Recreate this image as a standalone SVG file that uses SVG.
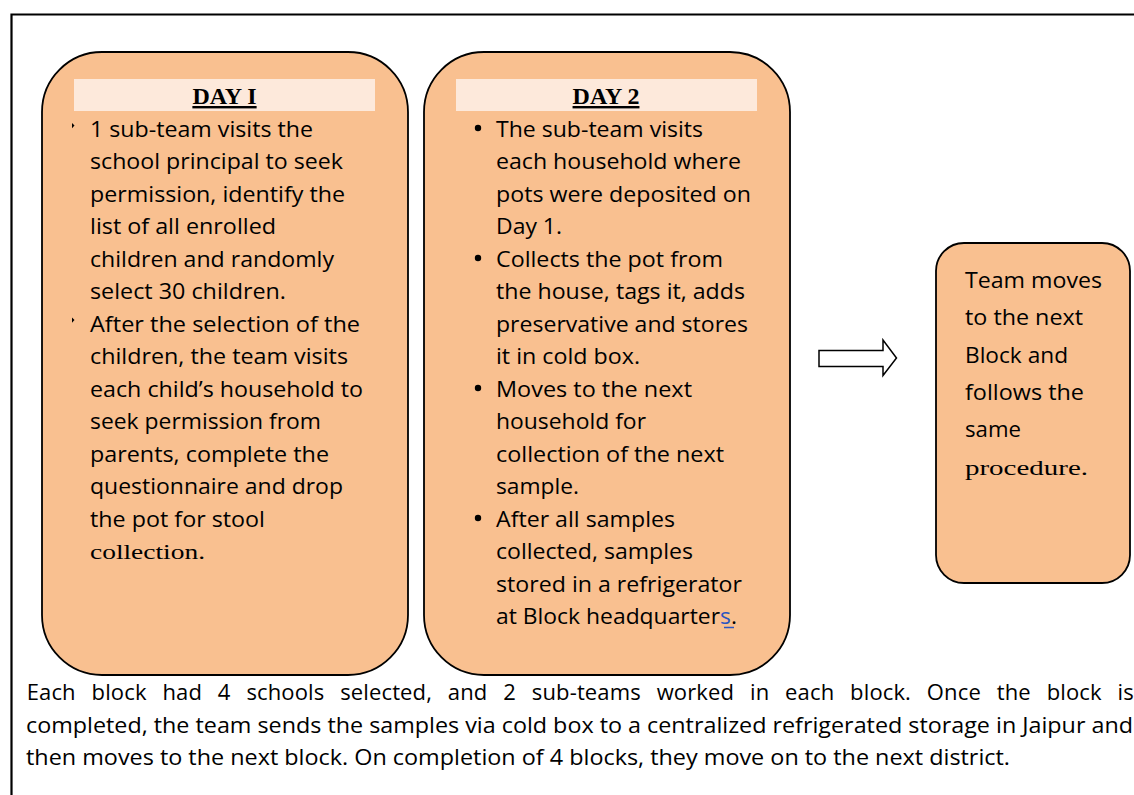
<svg xmlns="http://www.w3.org/2000/svg" width="1134" height="795" viewBox="0 0 1134 795">
<style>
.box{fill:#F9C090;stroke:#000;stroke-width:1.8}
.band{fill:#FDE9DB}
.hd{font-family:"Liberation Serif",serif;font-weight:bold;font-size:24px;fill:#000;text-anchor:middle;text-decoration:underline}
.t{font-family:"Open Sans","Liberation Sans",sans-serif;font-size:21px;fill:#000}
.p{font-family:"Open Sans","Liberation Sans",sans-serif;font-size:22px;fill:#000}
.s{font-family:"Liberation Serif",serif;font-size:22px;fill:#000}
</style>
<rect width="1134" height="795" fill="#fff"/>
<path d="M11.5 795 V14.5 H1134" fill="none" stroke="#000" stroke-width="2.2"/>

<g id="day1">
<rect class="box" x="42" y="52" width="366" height="623" rx="60" ry="60"/>
<rect class="band" x="74" y="79" width="301" height="32"/>
<text class="hd" x="224.5" y="104">DAY I</text>
<polygon points="72,123 74.5,125.5 72,128.3" fill="#000"/>
<polygon points="72,317.5 74.5,320 72,322.8" fill="#000"/>
<g class="t">
<text x="90" y="136.5" textLength="223" lengthAdjust="spacingAndGlyphs">1 sub-team visits the</text>
<text x="90" y="169" textLength="253" lengthAdjust="spacingAndGlyphs">school principal to seek</text>
<text x="90" y="201.5" textLength="255" lengthAdjust="spacingAndGlyphs">permission, identify the</text>
<text x="90" y="234" textLength="186" lengthAdjust="spacingAndGlyphs">list of all enrolled</text>
<text x="90" y="266.5" textLength="244" lengthAdjust="spacingAndGlyphs">children and randomly</text>
<text x="90" y="299" textLength="196" lengthAdjust="spacingAndGlyphs">select 30 children.</text>
<text x="90" y="331.5" textLength="270" lengthAdjust="spacingAndGlyphs">After the selection of the</text>
<text x="90" y="364" textLength="258" lengthAdjust="spacingAndGlyphs">children, the team visits</text>
<text x="90" y="396.5" textLength="273" lengthAdjust="spacingAndGlyphs">each child’s household to</text>
<text x="90" y="429" textLength="231" lengthAdjust="spacingAndGlyphs">seek permission from</text>
<text x="90" y="461.5" textLength="239" lengthAdjust="spacingAndGlyphs">parents, complete the</text>
<text x="90" y="494" textLength="253" lengthAdjust="spacingAndGlyphs">questionnaire and drop</text>
<text x="90" y="526.5" textLength="175" lengthAdjust="spacingAndGlyphs">the pot for stool</text>
</g>
<text class="s" x="90" y="559" textLength="115" lengthAdjust="spacingAndGlyphs">collection.</text>
</g>

<g id="day2">
<rect class="box" x="424" y="52" width="366" height="623" rx="60" ry="60"/>
<rect class="band" x="456" y="79" width="301" height="32"/>
<text class="hd" x="606" y="104">DAY 2</text>
<circle cx="478" cy="128" r="3.2" fill="#000"/>
<circle cx="478" cy="258" r="3.2" fill="#000"/>
<circle cx="478" cy="388" r="3.2" fill="#000"/>
<circle cx="478" cy="518" r="3.2" fill="#000"/>
<g class="t">
<text x="496" y="136.5" textLength="207" lengthAdjust="spacingAndGlyphs">The sub-team visits</text>
<text x="496" y="169" textLength="245" lengthAdjust="spacingAndGlyphs">each household where</text>
<text x="496" y="201.5" textLength="255" lengthAdjust="spacingAndGlyphs">pots were deposited on</text>
<text x="496" y="234" textLength="66" lengthAdjust="spacingAndGlyphs">Day 1.</text>
<text x="496" y="266.5" textLength="227" lengthAdjust="spacingAndGlyphs">Collects the pot from</text>
<text x="496" y="299" textLength="249" lengthAdjust="spacingAndGlyphs">the house, tags it, adds</text>
<text x="496" y="331.5" textLength="252" lengthAdjust="spacingAndGlyphs">preservative and stores</text>
<text x="496" y="364" textLength="144" lengthAdjust="spacingAndGlyphs">it in cold box.</text>
<text x="496" y="396.5" textLength="196" lengthAdjust="spacingAndGlyphs">Moves to the next</text>
<text x="496" y="429" textLength="150" lengthAdjust="spacingAndGlyphs">household for</text>
<text x="496" y="461.5" textLength="228" lengthAdjust="spacingAndGlyphs">collection of the next</text>
<text x="496" y="494" textLength="83" lengthAdjust="spacingAndGlyphs">sample.</text>
<text x="496" y="526.5" textLength="179" lengthAdjust="spacingAndGlyphs">After all samples</text>
<text x="496" y="559" textLength="197" lengthAdjust="spacingAndGlyphs">collected, samples</text>
<text x="496" y="591.5" textLength="246" lengthAdjust="spacingAndGlyphs">stored in a refrigerator</text>
<text x="496" y="624" textLength="241" lengthAdjust="spacingAndGlyphs">at Block headquarter<tspan fill="#2B55C0">s</tspan>.</text>
</g>
<line x1="724" y1="627.5" x2="734" y2="627.5" stroke="#2B55C0" stroke-width="1.5"/>
</g>

<g id="connectors">
<polygon points="819,350.5 883,350.5 883,340 896.5,358 883,375.5 883,366.5 819,366.5" fill="#fff" stroke="#000" stroke-width="1.5"/>
</g>

<g id="next-block">
<rect class="box" x="936" y="243" width="194" height="340" rx="28" ry="28"/>
<g class="t">
<text x="965" y="288" textLength="137" lengthAdjust="spacingAndGlyphs">Team moves</text>
<text x="965" y="325.3" textLength="118" lengthAdjust="spacingAndGlyphs">to the next</text>
<text x="965" y="362.6" textLength="103" lengthAdjust="spacingAndGlyphs">Block and</text>
<text x="965" y="400" textLength="119" lengthAdjust="spacingAndGlyphs">follows the</text>
<text x="965" y="437" textLength="56" lengthAdjust="spacingAndGlyphs">same</text>
</g>
<text class="s" x="965" y="474.5" textLength="123" lengthAdjust="spacingAndGlyphs">procedure.</text>
</g>

<g id="paragraph">
<text class="p" x="26.7" y="700" word-spacing="10" textLength="1107" lengthAdjust="spacing">Each block had 4 schools selected, and 2 sub-teams worked in each block. Once the block is</text>
<text class="t" x="26" y="732.5" textLength="1107" lengthAdjust="spacingAndGlyphs">completed, the team sends the samples via cold box to a centralized refrigerated storage in Jaipur and</text>
<text class="t" x="26" y="765" textLength="984" lengthAdjust="spacingAndGlyphs">then moves to the next block. On completion of 4 blocks, they move on to the next district.</text>
</g>
</svg>
